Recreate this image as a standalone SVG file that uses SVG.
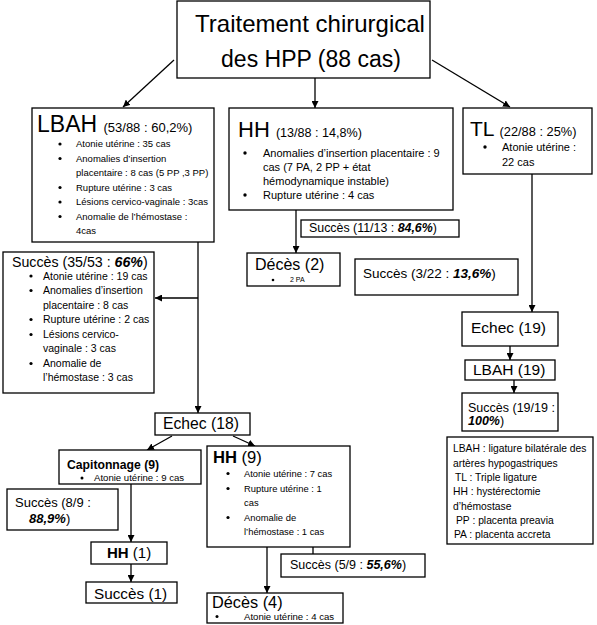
<svg xmlns="http://www.w3.org/2000/svg" width="597" height="625" viewBox="0 0 597 625">
<style>
text { font-family: "Liberation Sans", Arial, sans-serif; fill: #000; }
.box { fill: #fff; stroke: #000; stroke-width: 1.3; }
.con { stroke: #000; stroke-width: 1.3; fill: none; }
.bi { font-weight: bold; font-style: italic; }
.bd { font-weight: bold; }
.s95 { font-size: 9.5px; }
.s11 { font-size: 11px; }
.s105 { font-size: 10.5px; }
.s94 { font-size: 9.4px; }
.s98 { font-size: 9.6px; }
.lg { font-size: 10.3px; }
</style>
<defs>
<marker id="ah" viewBox="0 0 10 10" refX="10" refY="5" markerWidth="7" markerHeight="7" markerUnits="userSpaceOnUse" orient="auto">
<path d="M0,0 L10,5 L0,10 z" fill="#000"/>
</marker>
</defs>
<rect width="597" height="625" fill="#fff"/>

<g id="connectors">
<line class="con" x1="174" y1="60" x2="123" y2="107" marker-end="url(#ah)"/>
<line class="con" x1="315" y1="78" x2="315" y2="108" marker-end="url(#ah)"/>
<line class="con" x1="432" y1="60" x2="510" y2="107" marker-end="url(#ah)"/>
<line class="con" x1="198" y1="242" x2="198" y2="413" marker-end="url(#ah)"/>
<line class="con" x1="198" y1="298" x2="155" y2="298" marker-end="url(#ah)"/>
<line class="con" x1="296" y1="210" x2="296" y2="253" marker-end="url(#ah)"/>
<line class="con" x1="532" y1="174" x2="532" y2="312" marker-end="url(#ah)"/>
<line class="con" x1="510" y1="346" x2="510" y2="360" marker-end="url(#ah)"/>
<line class="con" x1="514" y1="380" x2="514" y2="393" marker-end="url(#ah)"/>
<line class="con" x1="172" y1="436" x2="147" y2="450" marker-end="url(#ah)"/>
<line class="con" x1="233" y1="436" x2="255" y2="446" marker-end="url(#ah)"/>
<line class="con" x1="131" y1="484" x2="131" y2="542" marker-end="url(#ah)"/>
<line class="con" x1="131" y1="564" x2="131" y2="582" marker-end="url(#ah)"/>
<line class="con" x1="267" y1="547" x2="267" y2="593" stroke-width="3" marker-end="url(#ah)"/>
<line class="con" x1="313" y1="547" x2="313" y2="554"/>
</g>

<g id="title">
<rect class="box" x="177" y="1" width="253" height="77"/>
<text x="310" y="32" font-size="24" text-anchor="middle">Traitement chirurgical</text>
<text x="311" y="67" font-size="23" text-anchor="middle">des HPP (88 cas)</text>
</g>

<g id="lbah">
<rect class="box" x="32" y="108" width="182" height="134"/>
<text x="37" y="132" font-size="23">LBAH <tspan font-size="13">(53/88 : 60,2%)</tspan></text>
<g fill="#000"><circle cx="60" cy="144" r="1.6"/><circle cx="60" cy="158.5" r="1.6"/><circle cx="60" cy="187.5" r="1.6"/><circle cx="60" cy="202" r="1.6"/><circle cx="60" cy="216.5" r="1.6"/></g>
<text class="s95" x="76" y="147">Atonie utérine : 35 cas</text>
<text class="s95" x="76" y="161.5">Anomalies d’insertion</text>
<text class="s95" x="76" y="176">placentaire : 8 cas (5 PP ,3 PP)</text>
<text class="s95" x="76" y="190.5">Rupture utérine : 3 cas</text>
<text class="s95" x="76" y="205">Lésions cervico-vaginale : 3cas</text>
<text class="s95" x="76" y="219.5">Anomalie de l’hémostase :</text>
<text class="s95" x="76" y="234">4cas</text>
</g>

<g id="hh">
<rect class="box" x="229" y="108" width="224" height="102"/>
<text x="238" y="137" font-size="22">HH <tspan font-size="12.6">(13/88 : 14,8%)</tspan></text>
<g fill="#000"><circle cx="245" cy="153" r="1.7"/><circle cx="245" cy="195" r="1.7"/></g>
<text class="s11" x="263" y="157">Anomalies d’insertion placentaire : 9</text>
<text class="s11" x="263" y="171">cas (7 PA, 2 PP + état</text>
<text class="s11" x="263" y="185">hémodynamique instable)</text>
<text class="s11" x="263" y="199">Rupture utérine : 4 cas</text>
</g>

<g id="tl">
<rect class="box" x="463" y="108" width="129" height="66"/>
<text x="470" y="136" font-size="21">TL <tspan font-size="12.8">(22/88 : 25%)</tspan></text>
<circle cx="485" cy="147" r="1.7" fill="#000"/>
<text class="s11" x="502" y="151">Atonie utérine :</text>
<text class="s11" x="502" y="166">22 cas</text>
</g>

<g id="succes-lbah">
<rect class="box" x="3" y="252" width="151" height="141"/>
<text x="12" y="267" font-size="14.2">Succès (35/53 : <tspan class="bi">66%</tspan>)</text>
<g fill="#000"><circle cx="31" cy="276" r="1.6"/><circle cx="31" cy="290.5" r="1.6"/><circle cx="31" cy="319.5" r="1.6"/><circle cx="31" cy="334.5" r="1.6"/><circle cx="31" cy="363.5" r="1.6"/></g>
<text class="s105" x="43" y="279.5">Atonie utérine : 19 cas</text>
<text class="s105" x="43" y="294">Anomalies d’insertion</text>
<text class="s105" x="43" y="309">placentaire : 8 cas</text>
<text class="s105" x="43" y="323">Rupture utérine : 2 cas</text>
<text class="s105" x="43" y="338">Lésions cervico-</text>
<text class="s105" x="43" y="352">vaginale : 3 cas</text>
<text class="s105" x="43" y="367">Anomalie de</text>
<text class="s105" x="43" y="381">l’hémostase : 3 cas</text>
</g>

<g id="succes-hh">
<rect class="box" x="301" y="220" width="158" height="17"/>
<text x="309" y="232" font-size="12.4">Succès (11/13 : <tspan class="bi">84,6%</tspan>)</text>
</g>

<g id="deces-2">
<rect class="box" x="247" y="253" width="93" height="33"/>
<text x="255" y="270" font-size="16">Décès  (2)</text>
<circle cx="273" cy="280" r="1.3" fill="#000"/>
<text x="290" y="282" font-size="7">2 PA</text>
</g>

<g id="succes-tl">
<rect class="box" x="355" y="259" width="163" height="36"/>
<text x="363" y="278" font-size="13.5">Succès (3/22 : <tspan class="bi">13,6%</tspan>)</text>
</g>

<g id="echec-19">
<rect class="box" x="462" y="312" width="96" height="34"/>
<text x="471" y="333" font-size="15.5">Echec (19)</text>
</g>

<g id="lbah-19">
<rect class="box" x="465" y="360" width="90" height="20"/>
<text x="473" y="375" font-size="15.5">LBAH (19)</text>
</g>

<g id="succes-19">
<rect class="box" x="462" y="393" width="96" height="38"/>
<text x="468" y="412" font-size="12.5">Succès (19/19 :</text>
<text x="468" y="425" font-size="12.5"><tspan class="bi">100%</tspan>)</text>
</g>

<g id="legend">
<rect class="box" x="447" y="437" width="146" height="107"/>
<text class="lg" x="453" y="452">LBAH : ligature bilatérale des</text>
<text class="lg" x="453" y="467">artères hypogastriques</text>
<text class="lg" x="455" y="481">TL : Triple ligature</text>
<text class="lg" x="453" y="495">HH : hystérectomie</text>
<text class="lg" x="453" y="510">d’hémostase</text>
<text class="lg" x="456" y="524">PP : placenta preavia</text>
<text class="lg" x="454" y="538">PA : placenta accreta</text>
</g>

<g id="echec-18">
<rect class="box" x="155" y="413" width="95" height="22"/>
<text x="163" y="429" font-size="15.7">Echec (18)</text>
</g>

<g id="capitonnage">
<rect class="box" x="59" y="450" width="142" height="34"/>
<text class="bd" x="67" y="468.5" font-size="12.2">Capitonnage (9)</text>
<circle cx="82" cy="478" r="1.5" fill="#000"/>
<text class="s98" x="94" y="481">Atonie utérine : 9 cas</text>
</g>

<g id="hh-9">
<rect class="box" x="207" y="446" width="143" height="101"/>
<text x="213" y="463" font-size="16.6"><tspan class="bd">HH</tspan> (9)</text>
<g fill="#000"><circle cx="228" cy="473.5" r="1.6"/><circle cx="228" cy="488.5" r="1.6"/><circle cx="228" cy="517.5" r="1.6"/></g>
<text class="s94" x="244" y="477">Atonie utérine : 7 cas</text>
<text class="s94" x="244" y="492">Rupture utérine : 1</text>
<text class="s94" x="244" y="506">cas</text>
<text class="s94" x="244" y="521">Anomalie de</text>
<text class="s94" x="244" y="535">l’hémostase : 1 cas</text>
</g>

<g id="succes-cap">
<rect class="box" x="7" y="489" width="111" height="41"/>
<text x="15" y="507" font-size="13">Succès (8/9 :</text>
<text x="29" y="523" font-size="13"><tspan class="bi">88,9%</tspan>)</text>
</g>

<g id="hh-1">
<rect class="box" x="91" y="542" width="76" height="22"/>
<text x="107" y="558" font-size="15"><tspan class="bd">HH</tspan> (1)</text>
</g>

<g id="succes-1">
<rect class="box" x="86" y="582" width="91" height="21"/>
<text x="94" y="599" font-size="15.3">Succès (1)</text>
</g>

<g id="succes-hh9">
<rect class="box" x="281" y="554" width="144" height="23"/>
<text x="290" y="569" font-size="12.5">Succès (5/9 : <tspan class="bi">55,6%</tspan>)</text>
</g>

<g id="deces-4">
<rect class="box" x="207" y="593" width="136" height="30"/>
<text x="212" y="608" font-size="16.3">Décès  (4)</text>
<circle cx="217" cy="616.5" r="1.5" fill="#000"/>
<text class="s98" x="244" y="620">Atonie utérine : 4 cas</text>
</g>
</svg>
